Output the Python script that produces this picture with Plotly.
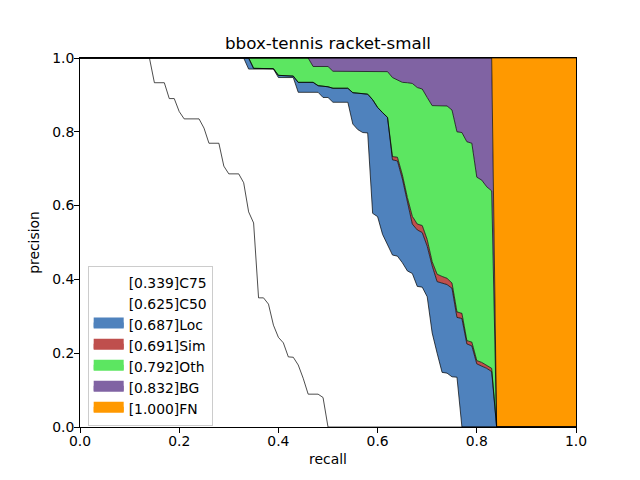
import plotly.graph_objects as go

# ---- data (recall, precision) ----
recall_c75 = [0, 0.14, 0.15, 0.17, 0.18, 0.19, 0.20, 0.21, 0.24, 0.25, 0.26, 0.28, 0.29, 0.30, 0.32,
              0.33, 0.34, 0.35, 0.36, 0.37, 0.38, 0.39, 0.40, 0.41, 0.42, 0.43, 0.44, 0.45, 0.46,
              0.48, 0.49, 0.50, 1.0]
prec_c75 = [1, 1, 0.933, 0.933, 0.89, 0.89, 0.855, 0.835, 0.835, 0.81, 0.769, 0.769, 0.707, 0.686, 0.686,
            0.662, 0.583, 0.553, 0.35, 0.35, 0.333, 0.276, 0.243, 0.228, 0.19, 0.189, 0.168, 0.132, 0.089,
            0.089, 0.08, 0.0, 0.0]

recall_c50 = [0, 0.33, 0.34, 0.39, 0.40, 0.43, 0.44, 0.48, 0.49, 0.50, 0.51, 0.54, 0.55, 0.56, 0.57,
              0.58, 0.59, 0.60, 0.61, 0.62, 0.63, 0.64, 0.65, 0.66, 0.67, 0.68, 0.69, 0.70, 0.71,
              0.72, 0.73, 0.74, 0.75, 0.76, 0.77, 1.0]
prec_c50 = [1, 1, 0.970, 0.970, 0.947, 0.947, 0.907, 0.907, 0.893, 0.893, 0.88, 0.88, 0.821, 0.806, 0.798,
            0.797, 0.579, 0.570, 0.522, 0.496, 0.466, 0.463, 0.445, 0.423, 0.416, 0.381, 0.379, 0.353, 0.255,
            0.200, 0.148, 0.146, 0.136, 0.135, 0.0, 0.0]

recall_loc = [0, 0.34, 0.35, 0.39, 0.40, 0.43, 0.44, 0.47, 0.48, 0.50, 0.51, 0.54, 0.55, 0.58, 0.59,
              0.60, 0.61, 0.62, 0.63, 0.64, 0.65, 0.66, 0.67, 0.68, 0.69, 0.70, 0.71, 0.72, 0.73,
              0.74, 0.75, 0.76, 0.77, 0.78, 0.79, 0.80, 0.81, 0.82, 0.83, 0.84, 1.0]
prec_loc = [1, 1, 0.972, 0.971, 0.953, 0.951, 0.934, 0.934, 0.925, 0.922, 0.918, 0.918, 0.906, 0.902, 0.887,
            0.866, 0.852, 0.839, 0.724, 0.721, 0.672, 0.610, 0.550, 0.534, 0.527, 0.490, 0.437, 0.394, 0.389,
            0.386, 0.376, 0.297, 0.294, 0.225, 0.220, 0.171, 0.165, 0.159, 0.150, 0.0, 0.0]

recall_sim = [0, 0.34, 0.35, 0.39, 0.40, 0.43, 0.44, 0.47, 0.48, 0.50, 0.51, 0.54, 0.55, 0.58, 0.59,
              0.60, 0.61, 0.62, 0.63, 0.64, 0.65, 0.66, 0.67, 0.68, 0.69, 0.70, 0.71, 0.72, 0.73,
              0.74, 0.75, 0.76, 0.77, 0.78, 0.79, 0.80, 0.81, 0.82, 0.83, 0.84, 1.0]
prec_sim = [1, 1, 0.972, 0.971, 0.953, 0.951, 0.934, 0.934, 0.925, 0.922, 0.918, 0.918, 0.906, 0.902, 0.887,
            0.866, 0.852, 0.839, 0.733, 0.731, 0.683, 0.622, 0.571, 0.550, 0.546, 0.508, 0.448, 0.414, 0.408,
            0.403, 0.390, 0.312, 0.308, 0.234, 0.230, 0.180, 0.175, 0.168, 0.159, 0.0, 0.0]

recall_oth = [0, 0.46, 0.47, 0.50, 0.51, 0.62, 0.63, 0.64, 0.65, 0.66, 0.67, 0.68, 0.69, 0.70, 0.71,
              0.74, 0.75, 0.76, 0.77, 0.78, 0.79, 0.80, 0.81, 0.82, 0.83, 0.84, 1.0]
prec_oth = [1, 1, 0.977, 0.977, 0.964, 0.963, 0.947, 0.941, 0.934, 0.933, 0.931, 0.920, 0.916, 0.893, 0.871,
            0.870, 0.859, 0.800, 0.798, 0.773, 0.769, 0.677, 0.669, 0.651, 0.640, 0.0, 0.0]

recall_bg = [0, 0.83, 0.84, 1.0]
prec_bg = [1, 1, 0.0, 0.0]

recall_fn = [0, 1.0]
prec_fn = [1, 1]

types = ["C75", "C50", "Loc", "Sim", "Oth", "BG", "FN"]
aps = [0.339, 0.625, 0.687, 0.691, 0.792, 0.832, 1.000]
colors = ["#FFFFFF", "#FFFFFF", "#4F82BD", "#BF4F4D", "#5CE661", "#8063A3", "#FF9900"]

curves = [(recall_c75, prec_c75), (recall_c50, prec_c50), (recall_loc, prec_loc),
          (recall_sim, prec_sim), (recall_oth, prec_oth), (recall_bg, prec_bg),
          (recall_fn, prec_fn)]

FONT = "DejaVu Sans"
fig = go.Figure()

# filled bands between consecutive curves
for k, ((rx, py), col) in enumerate(zip(curves, colors)):
    fig.add_trace(go.Scatter(
        x=rx, y=py, mode="lines", line=dict(width=0, color=col),
        fill="tozeroy" if k == 0 else "tonexty", fillcolor=col,
        showlegend=False, hoverinfo="skip"))

# thin black curve lines on top
for rx, py in curves:
    fig.add_trace(go.Scatter(
        x=rx, y=py, mode="lines", line=dict(width=0.7, color="black"),
        showlegend=False, hoverinfo="skip"))

# legend entries (patches)
for t, ap, col in zip(types, aps, colors):
    fig.add_trace(go.Scatter(
        x=[None], y=[None], mode="lines", fill="toself", fillcolor=col,
        line=dict(color=col, width=10), name=f"[{ap:.3f}]{t}"))

axis_common = dict(
    range=[0, 1], showgrid=False, zeroline=False, showline=True, mirror=True,
    linecolor="black", linewidth=1, ticks="outside", ticklen=5, tickwidth=1,
    tickcolor="black", tickvals=[0, 0.2, 0.4, 0.6, 0.8, 1.0], tickformat=".1f",
    tickfont=dict(family=FONT, size=13.9, color="black"),
)

# the page body adds an 8px offset, so margins are shifted to compensate
fig.update_layout(
    width=640, height=480,
    margin=dict(l=72, r=72, t=50, b=61, autoexpand=False),
    paper_bgcolor="white", plot_bgcolor="white",
    title=dict(text="bbox-tennis racket-small", x=0.5, xref="paper",
               y=1 - 35 / 480, yref="container", xanchor="center", yanchor="middle",
               font=dict(family=FONT, size=16.7, color="black")),
    xaxis=dict(axis_common, ticklabelstandoff=-4,
               title=dict(text="recall", standoff=6,
                          font=dict(family=FONT, size=13.9, color="black"))),
    yaxis=dict(axis_common, ticklabelstandoff=-3,
               title=dict(text="precision", standoff=9,
                          font=dict(family=FONT, size=13.9, color="black"))),
    legend=dict(x=0.0155, y=0.003, xanchor="left", yanchor="bottom",
                bgcolor="rgba(255,255,255,0.8)", bordercolor="#cccccc", borderwidth=1,
                font=dict(family=FONT, size=13.9, color="black"), traceorder="normal",
                tracegroupgap=0),
    showlegend=True,
)

fig.write_html("out.html")
